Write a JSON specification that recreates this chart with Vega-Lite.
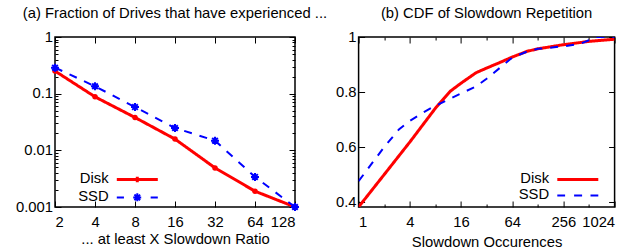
{
  "$schema": "https://vega.github.io/schema/vega-lite/v6.json",
  "background": "white",
  "padding": {"left": 14, "top": 5, "right": 5, "bottom": 2},
  "spacing": 6.6,
  "resolve": {
    "scale": {"color": "independent", "strokeDash": "independent", "strokeWidth": "independent"},
    "legend": {"color": "independent"}
  },
  "config": {
    "font": "Liberation Sans",
    "view": {"stroke": "black", "strokeWidth": 1.5},
    "axis": {
      "labelFont": "Liberation Sans", "labelFontSize": 14.8, "labelColor": "black",
      "titleFont": "Liberation Sans", "titleFontSize": 14.8, "titleFontWeight": "normal", "titleColor": "black",
      "grid": false, "domain": false, "tickColor": "black", "tickWidth": 1, "labelOverlap": false, "labelPadding": 8.5
    },
    "title": {"font": "Liberation Sans", "fontSize": 14.8, "fontWeight": "normal", "color": "black", "offset": 8, "frame": "group"},
    "legend": {
      "orient": "none", "title": null, "symbolType": "M-4.1,0H4.1", "symbolSize": 100, "symbolStrokeWidth": 2.5,
      "labelAlign": "right", "labelOffset": -36.1, "symbolOffset": 0, "padding": 0, "rowPadding": 0,
      "labelFont": "Liberation Sans", "labelFontSize": 14.8, "labelColor": "black", "labelBaseline": "middle"
    }
  },
  "datasets": {
    "frac": [
      {"ratio": 2, "drive": "Disk", "fraction": 0.251},
      {"ratio": 4, "drive": "Disk", "fraction": 0.088},
      {"ratio": 8, "drive": "Disk", "fraction": 0.038},
      {"ratio": 16, "drive": "Disk", "fraction": 0.0158},
      {"ratio": 32, "drive": "Disk", "fraction": 0.0049},
      {"ratio": 64, "drive": "Disk", "fraction": 0.0019},
      {"ratio": 128, "drive": "Disk", "fraction": 0.001},
      {"ratio": 2, "drive": "SSD", "fraction": 0.288},
      {"ratio": 4, "drive": "SSD", "fraction": 0.135},
      {"ratio": 8, "drive": "SSD", "fraction": 0.058},
      {"ratio": 16, "drive": "SSD", "fraction": 0.0248},
      {"ratio": 32, "drive": "SSD", "fraction": 0.0148},
      {"ratio": 64, "drive": "SSD", "fraction": 0.0034},
      {"ratio": 128, "drive": "SSD", "fraction": 0.001}
    ],
    "cdf": [
      {"occ": 1, "drive": "Disk", "p": 0.382},
      {"occ": 2, "drive": "Disk", "p": 0.5},
      {"occ": 4, "drive": "Disk", "p": 0.618},
      {"occ": 6, "drive": "Disk", "p": 0.69},
      {"occ": 8, "drive": "Disk", "p": 0.741},
      {"occ": 12, "drive": "Disk", "p": 0.803},
      {"occ": 16, "drive": "Disk", "p": 0.832},
      {"occ": 24, "drive": "Disk", "p": 0.87},
      {"occ": 32, "drive": "Disk", "p": 0.887},
      {"occ": 48, "drive": "Disk", "p": 0.91},
      {"occ": 64, "drive": "Disk", "p": 0.927},
      {"occ": 96, "drive": "Disk", "p": 0.948},
      {"occ": 128, "drive": "Disk", "p": 0.957},
      {"occ": 256, "drive": "Disk", "p": 0.972},
      {"occ": 512, "drive": "Disk", "p": 0.984},
      {"occ": 1024, "drive": "Disk", "p": 0.992},
      {"occ": 1, "drive": "SSD", "p": 0.476},
      {"occ": 2, "drive": "SSD", "p": 0.6},
      {"occ": 3, "drive": "SSD", "p": 0.665},
      {"occ": 4, "drive": "SSD", "p": 0.695},
      {"occ": 6, "drive": "SSD", "p": 0.729},
      {"occ": 8, "drive": "SSD", "p": 0.75},
      {"occ": 16, "drive": "SSD", "p": 0.795},
      {"occ": 24, "drive": "SSD", "p": 0.82},
      {"occ": 32, "drive": "SSD", "p": 0.848},
      {"occ": 48, "drive": "SSD", "p": 0.893},
      {"occ": 64, "drive": "SSD", "p": 0.925},
      {"occ": 96, "drive": "SSD", "p": 0.947},
      {"occ": 128, "drive": "SSD", "p": 0.957},
      {"occ": 256, "drive": "SSD", "p": 0.966},
      {"occ": 400, "drive": "SSD", "p": 0.975},
      {"occ": 512, "drive": "SSD", "p": 0.988},
      {"occ": 600, "drive": "SSD", "p": 1.0},
      {"occ": 1024, "drive": "SSD", "p": 1.0}
    ]
  },
  "hconcat": [
    {
      "width": 240, "height": 170,
      "title": {"text": "(a) Fraction of Drives that have experienced ..."},
      "data": {"name": "frac"},
      "resolve": {"axis": {"x": "independent", "y": "independent"}},
      "layer": [
        {
          "mark": {"type": "line", "clip": true},
          "encoding": {
            "x": {"field": "ratio", "type": "quantitative",
              "scale": {"type": "log", "base": 2, "domain": [2, 128], "nice": false},
              "axis": {"orient": "bottom", "values": [2, 4, 8, 16, 32, 64, 128], "title": "... at least X Slowdown Ratio", "tickSize": -6, "labelPadding": 13, "titlePadding": 3}},
            "y": {"field": "fraction", "type": "quantitative",
              "scale": {"type": "log", "domain": [0.001, 1], "nice": false},
              "axis": {"orient": "left", "title": null,
                "values": [0.001, 0.002, 0.003, 0.004, 0.005, 0.006, 0.007, 0.008, 0.009, 0.01, 0.02, 0.03, 0.04, 0.05, 0.06, 0.07, 0.08, 0.09, 0.1, 0.2, 0.3, 0.4, 0.5, 0.6, 0.7, 0.8, 0.9, 1],
                "labelExpr": "indexof([1, 0.1, 0.01, 0.001], datum.value) >= 0 ? format(datum.value, '~g') : ''",
                "tickSize": {"condition": {"test": "indexof([1, 0.1, 0.01, 0.001], datum.value) >= 0", "value": -6}, "value": -3}}},
            "color": {"field": "drive", "type": "nominal", "scale": {"domain": ["Disk", "SSD"], "range": ["#ff0000", "#0000ff"]},
              "legend": {"legendX": 74.9, "legendY": 135,
                "encode": {"symbols": {"update": {
                  "shape": {"signal": "datum.value === 'Disk' ? 'M-4.1,0H4.1M0,-0.55V0.55' : 'M-4.1,0H-2.67M-0.82,0H0.82M0,-0.82V0.82M-0.57,-0.57L0.57,0.57M-0.57,0.57L0.57,-0.57M2.67,0H4.1'"},
                  "strokeWidth": {"signal": "datum.value === 'Disk' ? 3 : 2"}}}}}},
            "strokeDash": {"field": "drive", "type": "nominal", "scale": {"domain": ["Disk", "SSD"], "range": [[1, 0], [8, 8]]},
              "legend": null},
            "strokeWidth": {"field": "drive", "type": "ordinal", "scale": {"domain": ["Disk", "SSD"], "range": [3, 2]},
              "legend": null}
          }
        },
        {
          "transform": [{"filter": "datum.drive === 'Disk'"}],
          "mark": {"type": "point", "shape": "circle", "filled": true, "color": "#ff0000", "size": 30, "opacity": 1},
          "encoding": {
            "x": {"field": "ratio", "type": "quantitative",
              "axis": {"orient": "top", "values": [2, 4, 8, 16, 32, 64, 128], "labels": false, "title": null, "tickSize": -6}},
            "y": {"field": "fraction", "type": "quantitative",
              "axis": {"orient": "right", "title": null, "labels": false,
                "values": [0.001, 0.002, 0.003, 0.004, 0.005, 0.006, 0.007, 0.008, 0.009, 0.01, 0.02, 0.03, 0.04, 0.05, 0.06, 0.07, 0.08, 0.09, 0.1, 0.2, 0.3, 0.4, 0.5, 0.6, 0.7, 0.8, 0.9, 1],
                "tickSize": {"condition": {"test": "indexof([1, 0.1, 0.01, 0.001], datum.value) >= 0", "value": -6}, "value": -3}}}
          }
        },
        {
          "transform": [{"filter": "datum.drive === 'SSD'"}],
          "mark": {"type": "point", "shape": "M-1,0L1,0M0,-1L0,1M-0.7,-0.7L0.7,0.7M-0.7,0.7L0.7,-0.7", "filled": false, "color": "#0000ff", "strokeWidth": 2, "size": 64, "opacity": 1},
          "encoding": {
            "x": {"field": "ratio", "type": "quantitative", "axis": null},
            "y": {"field": "fraction", "type": "quantitative", "axis": null}
          }
        }
      ]
    },
    {
      "width": 256, "height": 170,
      "title": {"text": "(b) CDF of Slowdown Repetition"},
      "data": {"name": "cdf"},
      "resolve": {"axis": {"x": "independent", "y": "independent"}},
      "layer": [
        {
          "mark": {"type": "line", "clip": true},
          "encoding": {
            "x": {"field": "occ", "type": "quantitative",
              "scale": {"type": "log", "base": 2, "domain": [1, 1024], "nice": false},
              "axis": {"orient": "bottom", "values": [1, 2, 4, 8, 16, 32, 64, 128, 256, 512, 1024], "title": "Slowdown Occurences",
                "labelExpr": "indexof([1, 4, 16, 64, 256, 1024], datum.value) >= 0 ? format(datum.value, 'd') : ''",
                "tickSize": {"condition": {"test": "indexof([1, 4, 16, 64, 256, 1024], datum.value) >= 0", "value": -6}, "value": -3},
                "labelPadding": 13, "titlePadding": 3}},
            "y": {"field": "p", "type": "quantitative",
              "scale": {"domain": [0.382, 1], "nice": false, "zero": false},
              "axis": {"orient": "left", "title": null, "values": [0.4, 0.6, 0.8, 1], "format": "~g", "tickSize": -6}},
            "color": {"field": "drive", "type": "nominal", "scale": {"domain": ["Disk", "SSD"], "range": ["#ff0000", "#0000ff"]},
              "legend": {"legendX": 211.8, "legendY": 135,
                "encode": {"symbols": {"update": {
                  "shape": {"signal": "datum.value === 'Disk' ? 'M-4.1,0H4.1' : 'M-4.1,0H-2.54M-0.74,0H0.9M2.54,0H4.1'"},
                  "strokeWidth": {"signal": "datum.value === 'Disk' ? 3 : 2"}}}}}},
            "strokeDash": {"field": "drive", "type": "nominal", "scale": {"domain": ["Disk", "SSD"], "range": [[1, 0], [8, 8]]},
              "legend": null},
            "strokeWidth": {"field": "drive", "type": "ordinal", "scale": {"domain": ["Disk", "SSD"], "range": [3, 2]},
              "legend": null}
          }
        },
        {
          "mark": {"type": "line", "opacity": 0},
          "encoding": {
            "x": {"field": "occ", "type": "quantitative",
              "axis": {"orient": "top", "values": [1, 2, 4, 8, 16, 32, 64, 128, 256, 512, 1024], "labels": false, "title": null,
                "tickSize": {"condition": {"test": "indexof([1, 4, 16, 64, 256, 1024], datum.value) >= 0", "value": -6}, "value": -3}}},
            "y": {"field": "p", "type": "quantitative",
              "axis": {"orient": "right", "title": null, "labels": false, "values": [0.4, 0.6, 0.8, 1], "tickSize": -6}},
            "detail": {"field": "drive"}
          }
        }
      ]
    }
  ]
}
